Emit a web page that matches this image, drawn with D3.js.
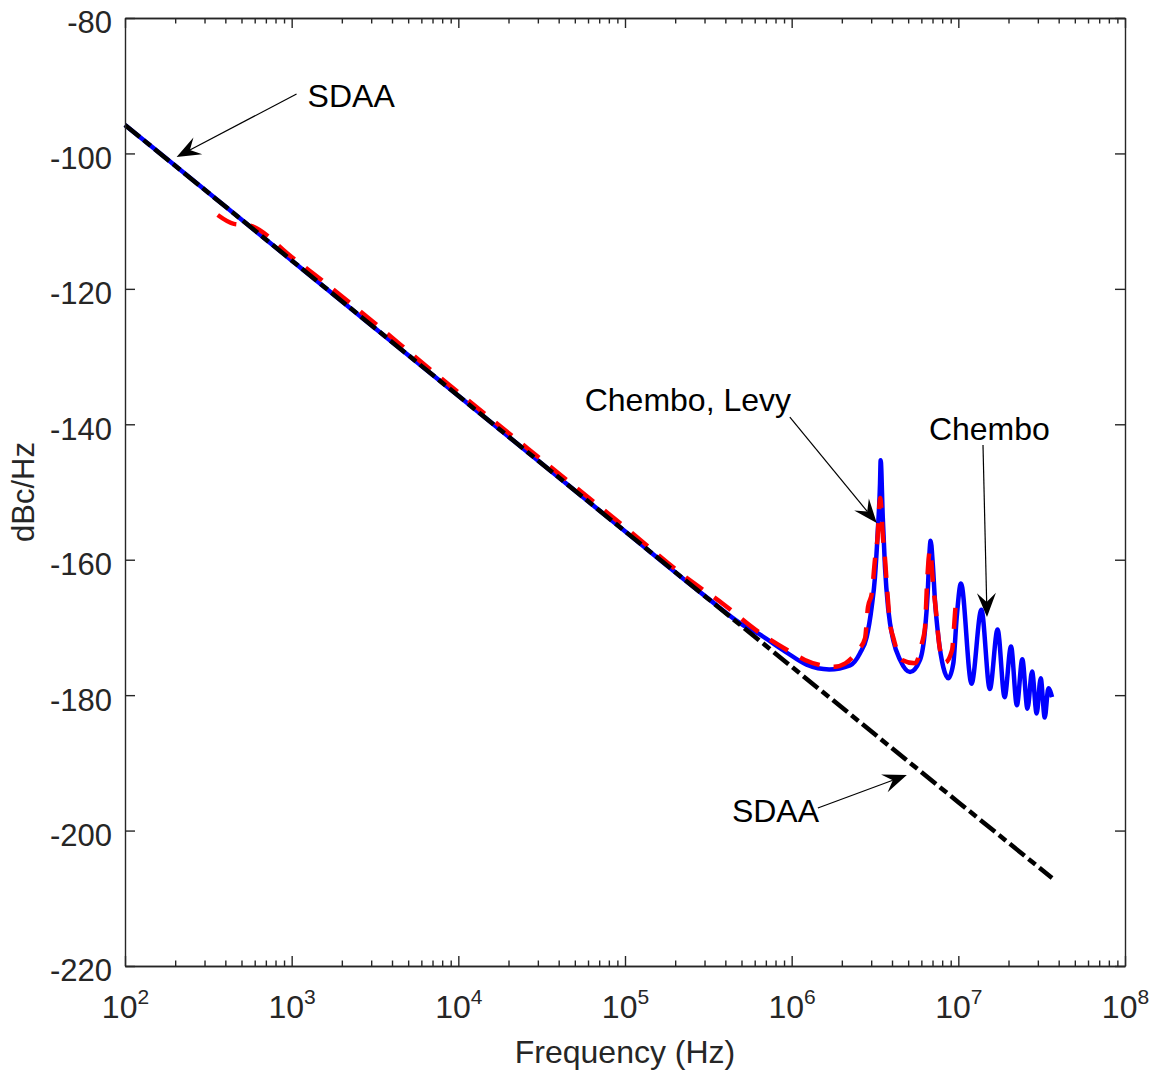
<!DOCTYPE html>
<html>
<head>
<meta charset="utf-8">
<script src="https://cdn.jsdelivr.net/npm/d3@7"></script>
<style>
  html, body { margin: 0; padding: 0; background: #ffffff; }
  svg { display: block; }
  text { font-family: Arial, "Liberation Sans", Helvetica, sans-serif; }
</style>
</head>
<body>
<svg id="chart" width="1156" height="1076"></svg>
<script>
// ---------------- data ----------------
const xTickExponents = [2, 3, 4, 5, 6, 7, 8];
const yTickValues = [-80, -100, -120, -140, -160, -180, -200, -220];

// SDAA (black dash-dot)
const sdaaFreq = [1e2, 1e3, 1e4, 1e5, 1e6, 1e7, 3.65e7];
const sdaaDb   = [-95.8, -115.8, -135.8, -155.8, -175.8, -195.8, -207.0];

// Chembo (blue solid)
const chemboFreq = [1e2, 1e3, 1e4, 1e5, 3e5, 5e5, 6.4e5, 9.2e5, 1.23e6, 1.68e6, 2.24e6, 2.57e6,
  2.82e6, 3.02e6, 3.16e6, 3.28e6, 3.39e6, 3.42e6, 3.52e6, 3.63e6, 3.80e6, 4.07e6, 4.47e6, 5.13e6,
  5.89e6, 6.31e6, 6.55e6, 6.69e6, 6.82e6, 7.02e6, 7.24e6, 7.59e6, 8.13e6, 8.71e6,
  9.33e6, 9.78e6, 1.037e7, 1.2e7, 1.375e7, 1.545e7, 1.72e7, 1.895e7, 2.07e7, 2.245e7, 2.42e7, 2.6e7,
  2.77e7, 2.95e7, 3.12e7, 3.3e7, 3.47e7, 3.65e7];
const chemboDb = [-95.8, -115.8, -135.8, -155.8, -165.3, -169.5, -171.0, -173.6, -175.5, -176.2, -175.6, -173.8,
  -171.4, -167.0, -162.6, -156.1, -148.7, -145.3, -153.7, -161.1, -167.4, -171.9, -174.8, -176.6,
  -174.8, -170.4, -164.9, -159.6, -157.2, -160.5, -166.0, -171.4, -175.9, -177.5,
  -175.3, -168.5, -163.5, -178.3, -167.4, -179.1, -170.3, -180.3, -172.8, -181.5, -174.7, -182.0,
  -176.5, -182.7, -177.5, -183.3, -179.0, -180.3];

// Chembo, Levy (red dashed)
const levyFreq = [3.6e2, 4.5e2, 5.5e2, 1e3, 1e4, 1e5, 2.5e5, 3.86e5, 6.2e5, 9.5e5, 1.2e6, 1.5e6, 1.8e6, 2.1e6,
  2.5e6, 2.755e6, 2.87e6, 3.03e6, 3.16e6, 3.27e6, 3.4e6, 3.53e6, 3.63e6, 3.73e6, 3.89e6, 4.06e6, 4.59e6, 5.5e6,
  6.05e6, 6.31e6, 6.49e6, 6.76e6, 7.05e6, 7.3e6, 7.76e6, 8.32e6, 9.16e6, 9.68e6, 9.9e6];
const levyDb = [-109.1, -110.4, -110.6, -115.3, -135.3, -155.2, -163.2, -166.5, -170.5, -173.4, -174.8, -175.6, -175.8, -175.3,
  -173.4, -171.6, -167.0, -164.9, -160.0, -157.0, -150.9, -156.7, -159.8, -164.0, -169.4, -171.4, -174.8, -175.3,
  -172.3, -170.0, -163.5, -158.6, -163.5, -167.0, -173.3, -175.2, -173.4, -166.4, -165.2];

// Annotations
const annoLabels = ["SDAA", "Chembo, Levy", "Chembo", "SDAA"];
const annoTextFreq = [1246, 5.73e4, 6.66e6, 4.38e5];
const annoTextDb = [-93.14, -138.04, -142.32, -198.74];
const annoStartFreq = [1070, 9.75e5, 1.406e7, 1.436e6];
const annoStartDb = [-91.22, -138.93, -143.06, -196.67];
const annoTipFreq = [204, 3.24e6, 1.486e7, 4.91e6];
const annoTipDb = [-100.53, -154.58, -168.47, -191.8];

// ---------------- chart ----------------
const svg = d3.select("#chart");
svg.append("rect").attr("width", 1156).attr("height", 1076).attr("fill", "#fff");

const plotLeft = 125, plotRight = 1125, plotTop = 18, plotBottom = 966;
const x = d3.scaleLog().domain([1e2, 1e8]).range([plotLeft, plotRight]);
const y = d3.scaleLinear().domain([-220, -80]).range([plotBottom, plotTop]);

const axisColor = "#262626";
const fontFam = 'Arial, "Liberation Sans", Helvetica, sans-serif';
const xMajor = xTickExponents.map(e => Math.pow(10, e));
const xMinor = [];
for (let e = 2; e < 8; e++) for (let m = 2; m <= 9; m++) xMinor.push(m * Math.pow(10, e));

// lines
const lineGen = d3.line().x(d => x(d[0])).y(d => y(d[1])).curve(d3.curveMonotoneX);
const chemboPts = chemboFreq.map((f, i) => [f, chemboDb[i]]);
const levyPts = levyFreq.map((f, i) => [f, levyDb[i]]);
const sdaaPts = sdaaFreq.map((f, i) => [f, sdaaDb[i]]);

svg.append("path").attr("d", lineGen(chemboPts)).attr("fill", "none")
  .attr("stroke", "#0000ff").attr("stroke-width", 4.5).attr("stroke-linejoin", "round");
svg.append("path").attr("d", lineGen(levyPts)).attr("fill", "none")
  .attr("stroke", "#ff0000").attr("stroke-width", 4.5).attr("stroke-dasharray", "21,14");
svg.append("path").attr("d", d3.line().x(d => x(d[0])).y(d => y(d[1]))(sdaaPts)).attr("fill", "none")
  .attr("stroke", "#000000").attr("stroke-width", 4.5).attr("stroke-dasharray", "19,5,9,5");

// axes
function styleAxis(g) {
  g.selectAll("path.domain").attr("stroke", axisColor).attr("stroke-width", 1.4);
  g.selectAll(".tick line").attr("stroke", axisColor).attr("stroke-width", 1.4);
}
const gx = svg.append("g").attr("transform", `translate(0,${plotBottom})`)
  .call(d3.axisBottom(x).tickValues(xMajor).tickSize(-10).tickSizeOuter(0).tickFormat(d => ""));
styleAxis(gx);
gx.selectAll(".tick text").each(function(d) {
  const t = d3.select(this);
  t.text(null).attr("y", 52).attr("dy", null).attr("fill", axisColor)
    .attr("font-size", 32).attr("text-anchor", "middle").attr("font-family", fontFam);
  t.append("tspan").text("10");
  t.append("tspan").attr("dy", -14).attr("font-size", 21).text(String(Math.round(Math.log10(d))));
});
const gxm = svg.append("g").attr("transform", `translate(0,${plotBottom})`)
  .call(d3.axisBottom(x).tickValues(xMinor).tickSize(-5.5).tickSizeOuter(0).tickFormat(d => ""));
styleAxis(gxm);
const gt = svg.append("g").attr("transform", `translate(0,${plotTop})`)
  .call(d3.axisTop(x).tickValues(xMajor).tickSize(-10).tickSizeOuter(0).tickFormat(d => ""));
styleAxis(gt);
const gtm = svg.append("g").attr("transform", `translate(0,${plotTop})`)
  .call(d3.axisTop(x).tickValues(xMinor).tickSize(-5.5).tickSizeOuter(0).tickFormat(d => ""));
styleAxis(gtm);
const gy = svg.append("g").attr("transform", `translate(${plotLeft},0)`)
  .call(d3.axisLeft(y).tickValues(yTickValues).tickSize(-10).tickSizeOuter(0).tickPadding(13)
    .tickFormat(d => String(d)));
styleAxis(gy);
gy.selectAll(".tick text").attr("font-size", 31).attr("fill", axisColor)
  .attr("font-family", fontFam).attr("dy", "0.48em");
const gr = svg.append("g").attr("transform", `translate(${plotRight},0)`)
  .call(d3.axisRight(y).tickValues(yTickValues).tickSize(-10).tickSizeOuter(0).tickFormat(d => ""));
styleAxis(gr);

// axis labels
svg.append("text").attr("x", (plotLeft + plotRight) / 2).attr("y", 1063).attr("text-anchor", "middle")
  .attr("font-size", 32).attr("fill", axisColor).attr("font-family", fontFam).text("Frequency (Hz)");
svg.append("text").attr("transform", `translate(34,${(plotTop + plotBottom) / 2}) rotate(-90)`)
  .attr("text-anchor", "middle").attr("font-size", 31).attr("fill", axisColor)
  .attr("font-family", fontFam).text("dBc/Hz");

// annotations
const headL = 24, headW = 9.5, headN = 15;
annoLabels.forEach((lab, i) => {
  svg.append("text").attr("x", x(annoTextFreq[i])).attr("y", y(annoTextDb[i]))
    .attr("font-size", 32).attr("fill", "#000").attr("font-family", fontFam).text(lab);
  const sx = x(annoStartFreq[i]), sy = y(annoStartDb[i]);
  const tx = x(annoTipFreq[i]), ty = y(annoTipDb[i]);
  const len = Math.hypot(tx - sx, ty - sy);
  const ux = (tx - sx) / len, uy = (ty - sy) / len;
  const nx = -uy, ny = ux;
  svg.append("line").attr("x1", sx).attr("y1", sy).attr("x2", tx - headN * ux).attr("y2", ty - headN * uy)
    .attr("stroke", "#000").attr("stroke-width", 1.2);
  const pts = [[tx, ty], [tx - headL * ux + headW * nx, ty - headL * uy + headW * ny],
               [tx - headN * ux, ty - headN * uy],
               [tx - headL * ux - headW * nx, ty - headL * uy - headW * ny]];
  svg.append("path").attr("d", "M" + pts.map(p => p.join(",")).join("L") + "Z").attr("fill", "#000");
});
</script>
</body>
</html>
